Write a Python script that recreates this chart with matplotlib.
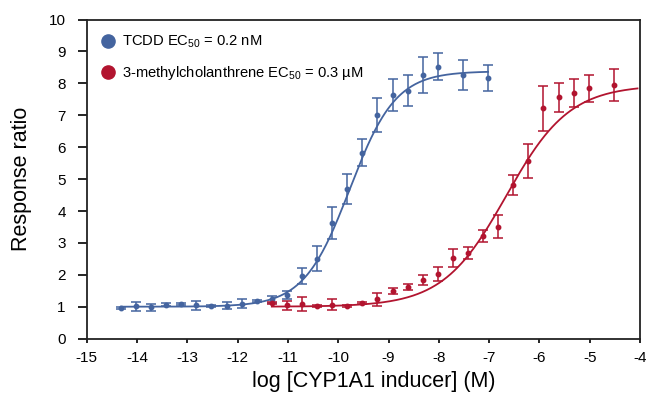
import numpy as np
import matplotlib
matplotlib.use("Agg")
import matplotlib.pyplot as plt

plt.rcParams['font.family'] = ['Liberation Sans', 'DejaVu Sans']
plt.rcParams['mathtext.fontset'] = 'custom'
plt.rcParams['mathtext.rm'] = 'Liberation Sans'
plt.rcParams['mathtext.it'] = 'Liberation Sans'
plt.rcParams['axes.unicode_minus'] = False

# TCDD data
tcdd_x = [-14.32, -14.02, -13.72, -13.42, -13.12, -12.82, -12.52, -12.22, -11.92, -11.62,
          -11.32, -11.02, -10.72, -10.42, -10.12, -9.82, -9.52, -9.22, -8.92, -8.62,
          -8.32, -8.02, -7.52, -7.02]
tcdd_y = [0.95, 1.01, 0.98, 1.06, 1.08, 1.04, 1.03, 1.03, 1.09, 1.17,
          1.23, 1.36, 1.97, 2.51, 3.62, 4.68, 5.83, 7.01, 7.64, 7.77,
          8.26, 8.52, 8.27, 8.16]
tcdd_err = [0.03, 0.14, 0.12, 0.05, 0.03, 0.13, 0.03, 0.11, 0.14, 0.03,
            0.11, 0.12, 0.25, 0.39, 0.49, 0.47, 0.43, 0.53, 0.50, 0.48,
            0.57, 0.42, 0.47, 0.41]

# 3-methylcholanthrene data
mc_x = [-11.32, -11.02, -10.72, -10.42, -10.12, -9.82, -9.52, -9.22, -8.92, -8.62,
        -8.32, -8.02, -7.72, -7.42, -7.12, -6.82, -6.52, -6.22, -5.92, -5.62,
        -5.32, -5.02, -4.52]
mc_y = [1.11, 1.04, 1.08, 1.03, 1.06, 1.02, 1.11, 1.23, 1.49, 1.61,
        1.84, 2.03, 2.52, 2.67, 3.22, 3.50, 4.82, 5.57, 7.22, 7.56,
        7.69, 7.85, 7.95]
mc_err = [0.03, 0.14, 0.21, 0.03, 0.17, 0.03, 0.03, 0.21, 0.10, 0.10,
          0.16, 0.22, 0.28, 0.19, 0.20, 0.36, 0.32, 0.52, 0.70, 0.46,
          0.44, 0.42, 0.49]

# four-parameter logistic fit parameters (bottom, top, logEC50, hill)
tcdd_fit = (1.0, 8.38, -9.77, 0.95)
mc_fit = (1.0, 7.95, -6.66, 0.69)
tcdd_fit_range = (-14.32, -7.02)
mc_fit_range = (-11.32, -4.05)

labels = ['TCDD EC$_{50}$ = 0.2 nM', '3-methylcholanthrene EC$_{50}$ = 0.3 µM']
blue = '#44649F'
red = '#B2142F'


def four_pl(x, p):
    b, t, ec, h = p
    return b + (t - b) / (1 + 10 ** (h * (ec - x)))


fig = plt.figure(figsize=(6.48, 3.98), dpi=100)
ax = fig.add_axes([0.1338, 0.1492, 0.8539, 0.8016])

for xs, ys, es, fit, rng, col, lab in [
        (tcdd_x, tcdd_y, tcdd_err, tcdd_fit, tcdd_fit_range, blue, labels[0]),
        (mc_x, mc_y, mc_err, mc_fit, mc_fit_range, red, labels[1])]:
    xx = np.linspace(rng[0], rng[1], 400)
    ax.plot(xx, four_pl(xx, fit), color=col, lw=1.3, zorder=2)
    ax.errorbar(xs, ys, yerr=es, fmt='o', ms=3.2, color=col, ecolor=col,
                elinewidth=1.1, capsize=3.3, capthick=1.1, zorder=3)
    ax.plot([], [], 'o', color=col, ms=9.5, label=lab)

ax.set_xlim(-15, -4)
ax.set_ylim(0, 10)
ax.set_xticks(np.arange(-15, -3, 1))
ax.set_yticks(np.arange(0, 11, 1))
ax.tick_params(axis='x', direction='out', length=3.2, width=1.2, labelsize=11, pad=6)
ax.tick_params(axis='y', direction='out', length=6.5, width=1.2, labelsize=11, pad=8.5)
for s in ax.spines.values():
    s.set_linewidth(1.3)
    s.set_color('#222222')

ax.set_xlabel('log [CYP1A1 inducer] (M)', fontsize=15.5)
ax.set_ylabel('Response ratio', fontsize=15.5)
ax.xaxis.set_label_coords(0.519, -0.10)
ax.yaxis.set_label_coords(-0.098, 0.50)

leg = ax.legend(loc='upper left', frameon=False, fontsize=10.6, handletextpad=0.2,
                borderaxespad=0.3, labelspacing=0.93, handlelength=1.5,
                bbox_to_anchor=(0.0, 0.9875))

fig.savefig('out.png', dpi=100)
